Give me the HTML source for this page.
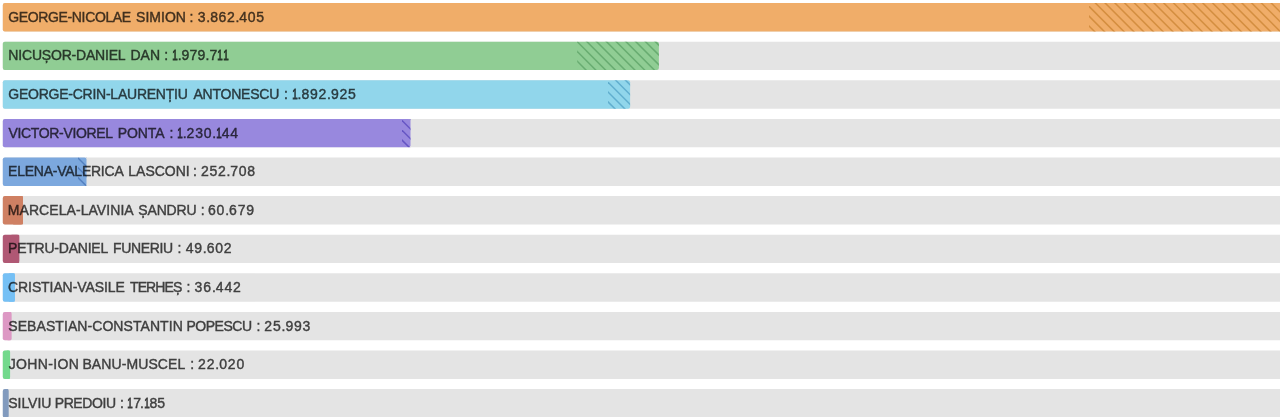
<!DOCTYPE html>
<html lang="ro"><head><meta charset="utf-8"><title>Rezultate</title>
<style>
html,body{margin:0;padding:0;background:#fff;}
body{width:1280px;height:417px;position:relative;overflow:hidden;font-family:"Liberation Sans",sans-serif;}
.row{position:absolute;left:0;width:1280px;overflow:hidden;}
.row svg{position:absolute;left:0;top:0;display:block;}
.bg{fill:#e4e4e4;}
.hatch line{stroke-width:1.5;stroke-opacity:.82;}
.lbl{position:absolute;left:0;height:16px;line-height:16px;font-size:14px;color:#444;mix-blend-mode:multiply;-webkit-text-stroke-width:0.4px;opacity:0.99;will-change:transform,opacity;white-space:nowrap;}
.lbl span{position:absolute;top:0;}
.lbl i{font-style:normal;}
.lbl i.o{display:inline-block;transform:scaleX(.7);margin:0 -0.96px 0 -1.23px;-webkit-text-stroke-width:0.8px;}
</style></head><body>
<div class="row" style="top:3px;height:29px"><svg width="1280" height="29" viewBox="0 0 1280 29"><rect class="bg" x="2.8" y="0.1" width="1280" height="28.4" rx="2"/><rect x="2.8" y="0.1" width="1280.0" height="28.4" rx="2" fill="#f0ad69"/><svg class="hatch" x="1089.0" y="0.1" width="193.8" height="28.4" stroke="#cd8737"><line x1="-24.84" y1="-2" x2="7.56" y2="30.4"/><line x1="-15.07" y1="-2" x2="17.33" y2="30.4"/><line x1="-5.30" y1="-2" x2="27.10" y2="30.4"/><line x1="4.47" y1="-2" x2="36.87" y2="30.4"/><line x1="14.24" y1="-2" x2="46.64" y2="30.4"/><line x1="24.01" y1="-2" x2="56.41" y2="30.4"/><line x1="33.78" y1="-2" x2="66.18" y2="30.4"/><line x1="43.55" y1="-2" x2="75.95" y2="30.4"/><line x1="53.32" y1="-2" x2="85.72" y2="30.4"/><line x1="63.09" y1="-2" x2="95.49" y2="30.4"/><line x1="72.86" y1="-2" x2="105.26" y2="30.4"/><line x1="82.63" y1="-2" x2="115.03" y2="30.4"/><line x1="92.40" y1="-2" x2="124.80" y2="30.4"/><line x1="102.17" y1="-2" x2="134.57" y2="30.4"/><line x1="111.94" y1="-2" x2="144.34" y2="30.4"/><line x1="121.71" y1="-2" x2="154.11" y2="30.4"/><line x1="131.48" y1="-2" x2="163.88" y2="30.4"/><line x1="141.25" y1="-2" x2="173.65" y2="30.4"/><line x1="151.02" y1="-2" x2="183.42" y2="30.4"/><line x1="160.79" y1="-2" x2="193.19" y2="30.4"/><line x1="170.56" y1="-2" x2="202.96" y2="30.4"/><line x1="180.33" y1="-2" x2="212.73" y2="30.4"/><line x1="190.10" y1="-2" x2="222.50" y2="30.4"/></svg></svg><div class="lbl" style="top:5.15px;transform:translateY(0.70px)"><span style="left:8.25px;letter-spacing:-0.358px">GEORGE-NICOLAE</span> <span style="left:136.05px;letter-spacing:0.020px">SIMION</span> <span style="left:189.53px;letter-spacing:0.000px">:</span> <span style="left:197.80px"><i style="letter-spacing:0.639px">3</i><i style="letter-spacing:0.000px">.</i><i style="letter-spacing:0.639px">8</i><i style="letter-spacing:0.639px">6</i><i style="letter-spacing:0.639px">2</i><i style="letter-spacing:0.000px">.</i><i style="letter-spacing:0.639px">4</i><i style="letter-spacing:0.639px">0</i><i style="letter-spacing:0.639px">5</i></span></div></div>
<div class="row" style="top:41px;height:30px"><svg width="1280" height="30" viewBox="0 0 1280 30"><rect class="bg" x="2.8" y="0.7" width="1280" height="28.4" rx="2"/><rect x="2.8" y="0.7" width="656.1" height="28.4" rx="2" fill="#90cd94"/><svg class="hatch" x="577.2" y="0.7" width="81.7" height="28.4" stroke="#5fa569"><line x1="-31.33" y1="-2" x2="1.07" y2="30.4"/><line x1="-21.56" y1="-2" x2="10.84" y2="30.4"/><line x1="-11.79" y1="-2" x2="20.61" y2="30.4"/><line x1="-2.02" y1="-2" x2="30.38" y2="30.4"/><line x1="7.75" y1="-2" x2="40.15" y2="30.4"/><line x1="17.52" y1="-2" x2="49.92" y2="30.4"/><line x1="27.29" y1="-2" x2="59.69" y2="30.4"/><line x1="37.06" y1="-2" x2="69.46" y2="30.4"/><line x1="46.83" y1="-2" x2="79.23" y2="30.4"/><line x1="56.60" y1="-2" x2="89.00" y2="30.4"/><line x1="66.37" y1="-2" x2="98.77" y2="30.4"/><line x1="76.14" y1="-2" x2="108.54" y2="30.4"/></svg></svg><div class="lbl" style="top:6.15px;transform:translateY(0.30px)"><span style="left:8.35px;letter-spacing:-0.192px">NICUȘOR-DANIEL</span> <span style="left:130.45px;letter-spacing:0.075px">DAN</span> <span style="left:164.32px;letter-spacing:0.000px">:</span> <span style="left:172.10px"><i class="o">1</i><i style="letter-spacing:0.000px">.</i><i style="letter-spacing:0.201px">9</i><i style="letter-spacing:0.201px">7</i><i style="letter-spacing:0.201px">9</i><i style="letter-spacing:0.000px">.</i><i style="letter-spacing:0.201px">7</i><i class="o">1</i><i class="o">1</i></span></div></div>
<div class="row" style="top:80px;height:29px"><svg width="1280" height="29" viewBox="0 0 1280 29"><rect class="bg" x="2.8" y="0.3" width="1280" height="28.4" rx="2"/><rect x="2.8" y="0.3" width="627.3" height="28.4" rx="2" fill="#91d6eb"/><svg class="hatch" x="608.0" y="0.3" width="22.1" height="28.4" stroke="#55a5c8"><line x1="-33.30" y1="-2" x2="-0.90" y2="30.4"/><line x1="-23.53" y1="-2" x2="8.87" y2="30.4"/><line x1="-13.76" y1="-2" x2="18.64" y2="30.4"/><line x1="-3.99" y1="-2" x2="28.41" y2="30.4"/><line x1="5.78" y1="-2" x2="38.18" y2="30.4"/><line x1="15.55" y1="-2" x2="47.95" y2="30.4"/></svg></svg><div class="lbl" style="top:5.15px;transform:translateY(0.90px)"><span style="left:8.25px;letter-spacing:-0.240px">GEORGE-CRIN-LAURENȚIU</span> <span style="left:193.50px;letter-spacing:-0.237px">ANTONESCU</span> <span style="left:284.02px;letter-spacing:0.000px">:</span> <span style="left:291.90px"><i class="o">1</i><i style="letter-spacing:0.000px">.</i><i style="letter-spacing:0.744px">8</i><i style="letter-spacing:0.744px">9</i><i style="letter-spacing:0.744px">2</i><i style="letter-spacing:0.000px">.</i><i style="letter-spacing:0.744px">9</i><i style="letter-spacing:0.744px">2</i><i style="letter-spacing:0.744px">5</i></span></div></div>
<div class="row" style="top:118px;height:30px"><svg width="1280" height="30" viewBox="0 0 1280 30"><rect class="bg" x="2.8" y="0.9" width="1280" height="28.4" rx="2"/><rect x="2.8" y="0.9" width="407.7" height="28.4" rx="2" fill="#9888de"/><svg class="hatch" x="402.0" y="0.9" width="8.5" height="28.4" stroke="#5a4bbe"><line x1="-32.95" y1="-2" x2="-0.55" y2="30.4"/><line x1="-23.18" y1="-2" x2="9.22" y2="30.4"/><line x1="-13.41" y1="-2" x2="18.99" y2="30.4"/><line x1="-3.64" y1="-2" x2="28.76" y2="30.4"/><line x1="6.13" y1="-2" x2="38.53" y2="30.4"/></svg></svg><div class="lbl" style="top:6.15px;transform:translateY(0.50px)"><span style="left:8.45px;letter-spacing:-0.333px">VICTOR-VIOREL</span> <span style="left:117.75px;letter-spacing:-0.100px">PONTA</span> <span style="left:169.43px;letter-spacing:0.000px">:</span> <span style="left:177.10px"><i class="o">1</i><i style="letter-spacing:0.000px">.</i><i style="letter-spacing:0.714px">2</i><i style="letter-spacing:0.714px">3</i><i style="letter-spacing:0.714px">0</i><i style="letter-spacing:0.000px">.</i><i class="o">1</i><i style="letter-spacing:0.714px">4</i><i style="letter-spacing:0.714px">4</i></span></div></div>
<div class="row" style="top:157px;height:29px"><svg width="1280" height="29" viewBox="0 0 1280 29"><rect class="bg" x="2.8" y="0.5" width="1280" height="28.4" rx="2"/><rect x="2.8" y="0.5" width="83.7" height="28.4" rx="2" fill="#7ca8de"/><svg class="hatch" x="78.0" y="0.5" width="8.5" height="28.4" stroke="#4b78b9"><line x1="-31.84" y1="-2" x2="0.56" y2="30.4"/><line x1="-22.07" y1="-2" x2="10.33" y2="30.4"/><line x1="-12.30" y1="-2" x2="20.10" y2="30.4"/><line x1="-2.53" y1="-2" x2="29.87" y2="30.4"/><line x1="7.24" y1="-2" x2="39.64" y2="30.4"/></svg></svg><div class="lbl" style="top:6.15px;transform:translateY(0.10px)"><span style="left:8.05px;letter-spacing:-0.238px">ELENA-VALERICA</span> <span style="left:128.35px;letter-spacing:-0.033px">LASCONI</span> <span style="left:193.12px;letter-spacing:0.000px">:</span> <span style="left:201.05px"><i style="letter-spacing:0.664px">2</i><i style="letter-spacing:0.664px">5</i><i style="letter-spacing:0.664px">2</i><i style="letter-spacing:0.000px">.</i><i style="letter-spacing:0.664px">7</i><i style="letter-spacing:0.664px">0</i><i style="letter-spacing:0.664px">8</i></span></div></div>
<div class="row" style="top:196px;height:29px"><svg width="1280" height="29" viewBox="0 0 1280 29"><rect class="bg" x="2.8" y="0.1" width="1280" height="28.4" rx="2"/><rect x="2.8" y="0.1" width="20.1" height="28.4" rx="2" fill="#cf8063"/><rect x="12.9" y="0.1" width="10.1" height="28.4" rx="0.8" fill="#cf8063"/></svg><div class="lbl" style="top:5.15px;transform:translateY(0.70px)"><span style="left:7.75px;letter-spacing:0.068px">MARCELA-LAVINIA</span> <span style="left:138.35px;letter-spacing:-0.170px">ȘANDRU</span> <span style="left:200.72px;letter-spacing:0.000px">:</span> <span style="left:208.05px"><i style="letter-spacing:0.764px">6</i><i style="letter-spacing:0.764px">0</i><i style="letter-spacing:0.000px">.</i><i style="letter-spacing:0.764px">6</i><i style="letter-spacing:0.764px">7</i><i style="letter-spacing:0.764px">9</i></span></div></div>
<div class="row" style="top:234px;height:30px"><svg width="1280" height="30" viewBox="0 0 1280 30"><rect class="bg" x="2.8" y="0.7" width="1280" height="28.4" rx="2"/><rect x="2.8" y="0.7" width="16.4" height="28.4" rx="2" fill="#b05874"/><rect x="11.0" y="0.7" width="8.2" height="28.4" rx="0.8" fill="#b05874"/></svg><div class="lbl" style="top:6.15px;transform:translateY(0.30px)"><span style="left:8.05px;letter-spacing:-0.227px">PETRU-DANIEL</span> <span style="left:112.95px;letter-spacing:-0.333px">FUNERIU</span> <span style="left:177.52px;letter-spacing:0.000px">:</span> <span style="left:185.65px"><i style="letter-spacing:0.751px">4</i><i style="letter-spacing:0.751px">9</i><i style="letter-spacing:0.000px">.</i><i style="letter-spacing:0.751px">6</i><i style="letter-spacing:0.751px">0</i><i style="letter-spacing:0.751px">2</i></span></div></div>
<div class="row" style="top:273px;height:29px"><svg width="1280" height="29" viewBox="0 0 1280 29"><rect class="bg" x="2.8" y="0.3" width="1280" height="28.4" rx="2"/><rect x="2.8" y="0.3" width="12.1" height="28.4" rx="2" fill="#75c0f5"/><rect x="8.8" y="0.3" width="6.0" height="28.4" rx="0.8" fill="#75c0f5"/></svg><div class="lbl" style="top:5.15px;transform:translateY(0.90px)"><span style="left:8.05px;letter-spacing:-0.093px">CRISTIAN-VASILE</span> <span style="left:129.95px;letter-spacing:-0.860px">TERHEȘ</span> <span style="left:186.43px;letter-spacing:0.000px">:</span> <span style="left:194.60px"><i style="letter-spacing:0.851px">3</i><i style="letter-spacing:0.851px">6</i><i style="letter-spacing:0.000px">.</i><i style="letter-spacing:0.851px">4</i><i style="letter-spacing:0.851px">4</i><i style="letter-spacing:0.851px">2</i></span></div></div>
<div class="row" style="top:311px;height:30px"><svg width="1280" height="30" viewBox="0 0 1280 30"><rect class="bg" x="2.8" y="0.9" width="1280" height="28.4" rx="2"/><rect x="2.8" y="0.9" width="8.6" height="28.4" rx="2" fill="#dd98c4"/><rect x="7.1" y="0.9" width="4.3" height="28.4" rx="0.8" fill="#dd98c4"/></svg><div class="lbl" style="top:6.15px;transform:translateY(0.50px)"><span style="left:8.25px;letter-spacing:0.071px">SEBASTIAN-CONSTANTIN</span> <span style="left:186.45px;letter-spacing:-0.475px">POPESCU</span> <span style="left:256.43px;letter-spacing:0.000px">:</span> <span style="left:264.35px"><i style="letter-spacing:0.801px">2</i><i style="letter-spacing:0.801px">5</i><i style="letter-spacing:0.000px">.</i><i style="letter-spacing:0.801px">9</i><i style="letter-spacing:0.801px">9</i><i style="letter-spacing:0.801px">3</i></span></div></div>
<div class="row" style="top:350px;height:29px"><svg width="1280" height="29" viewBox="0 0 1280 29"><rect class="bg" x="2.8" y="0.5" width="1280" height="28.4" rx="2"/><rect x="2.8" y="0.5" width="7.3" height="28.4" rx="2" fill="#73d98c"/><rect x="6.4" y="0.5" width="3.6" height="28.4" rx="0.8" fill="#73d98c"/></svg><div class="lbl" style="top:6.15px;transform:translateY(0.10px)"><span style="left:8.75px;letter-spacing:0.350px">JOHN-ION</span> <span style="left:82.45px;letter-spacing:0.095px">BANU-MUSCEL</span> <span style="left:190.23px;letter-spacing:0.000px">:</span> <span style="left:198.05px"><i style="letter-spacing:0.826px">2</i><i style="letter-spacing:0.826px">2</i><i style="letter-spacing:0.000px">.</i><i style="letter-spacing:0.826px">0</i><i style="letter-spacing:0.826px">2</i><i style="letter-spacing:0.826px">0</i></span></div></div>
<div class="row" style="top:389px;height:29px"><svg width="1280" height="29" viewBox="0 0 1280 29"><rect class="bg" x="2.8" y="0.1" width="1280" height="28.4" rx="2"/><rect x="2.8" y="0.1" width="5.7" height="28.4" rx="2" fill="#829bbe"/><rect x="5.6" y="0.1" width="2.8" height="28.4" rx="0.8" fill="#829bbe"/></svg><div class="lbl" style="top:5.15px;transform:translateY(0.70px)"><span style="left:8.25px;letter-spacing:-0.040px">SILVIU</span> <span style="left:54.75px;letter-spacing:-0.417px">PREDOIU</span> <span style="left:120.07px;letter-spacing:0.000px">:</span> <span style="left:127.70px"><i class="o">1</i><i style="letter-spacing:-1.136px">7</i><i style="letter-spacing:0.000px">.</i><i class="o">1</i><i style="letter-spacing:-0.136px">8</i><i style="letter-spacing:-0.136px">5</i></span></div></div>
</body></html>
